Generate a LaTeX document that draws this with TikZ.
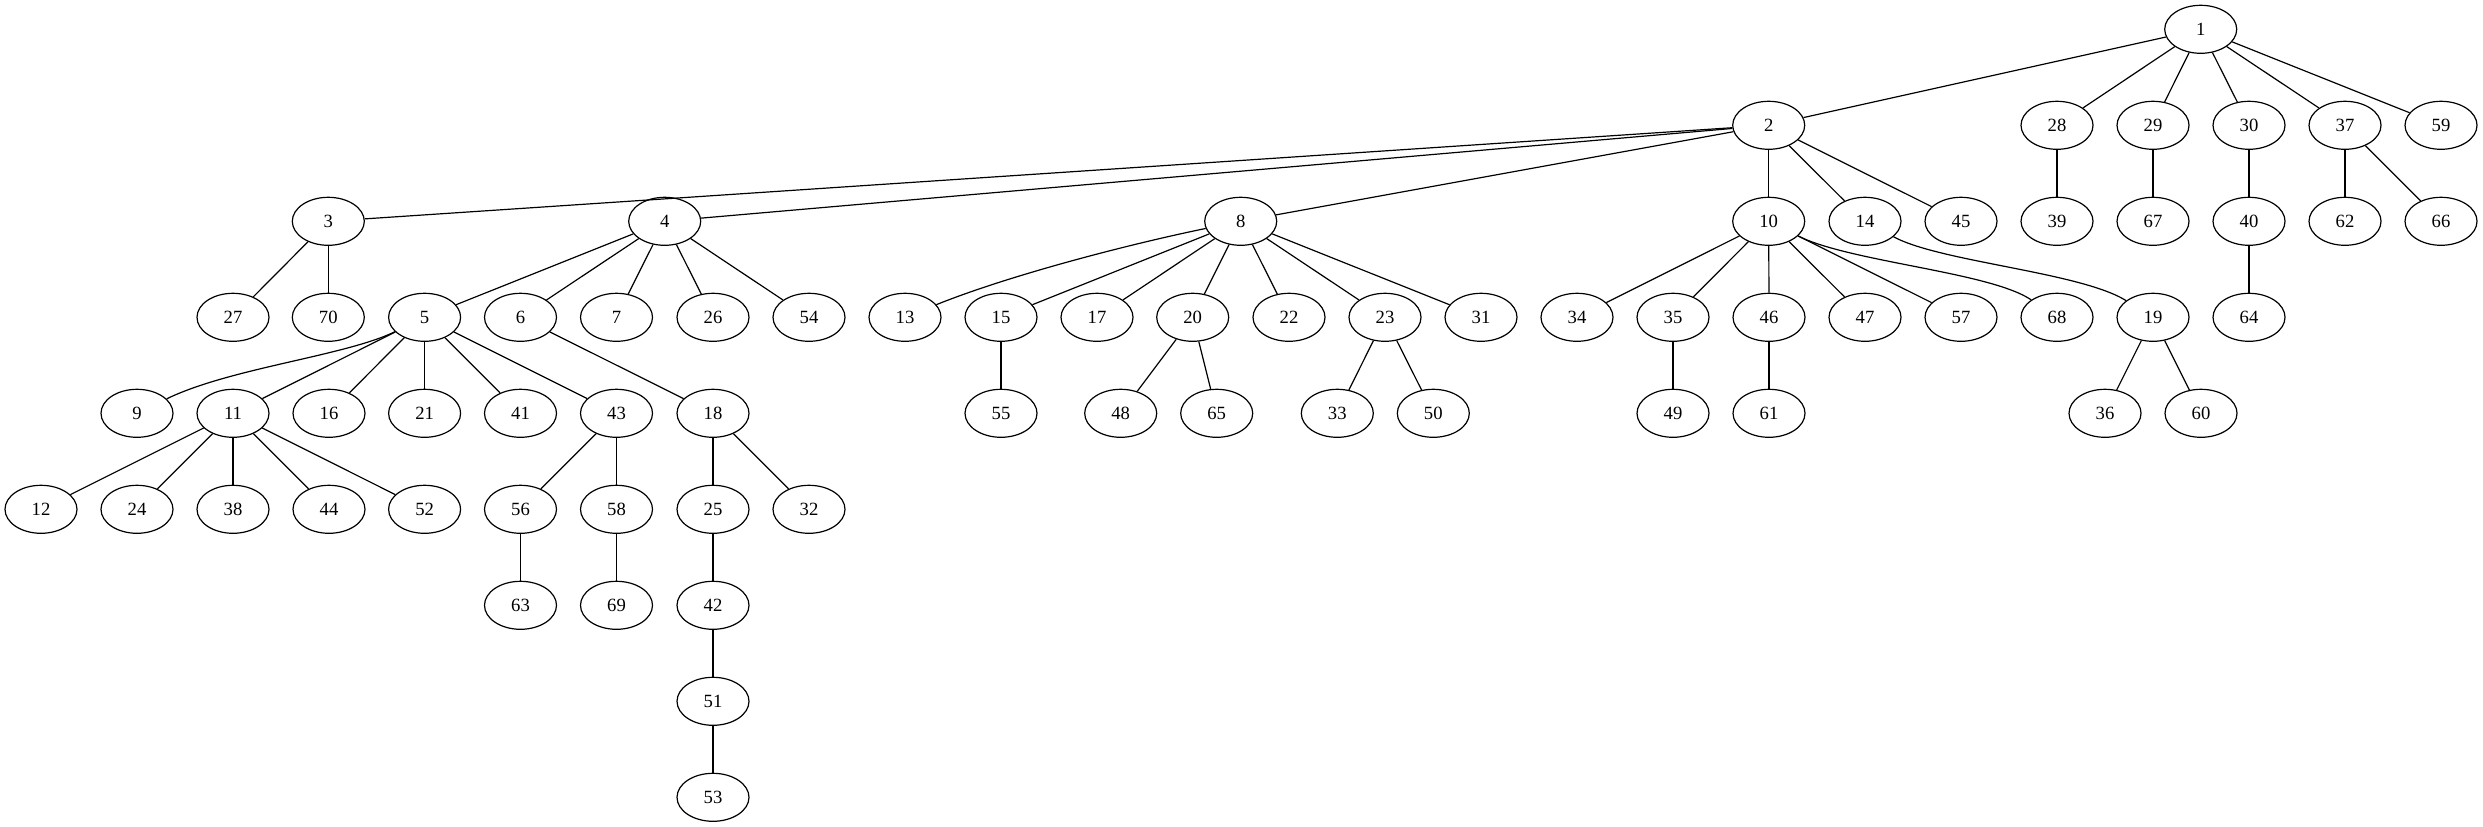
\documentclass[tikz,border=0pt]{standalone}
\usepackage{fontspec}
\setmainfont{Liberation Serif}
\usetikzlibrary{shapes.geometric}
\begin{document}
\begin{tikzpicture}[x=0.75pt,y=-0.75pt,
  nd/.style={draw,ellipse,line width=0.9pt,minimum width=54pt,minimum height=36pt,inner sep=0pt,font=\fontsize{14}{16}\selectfont},
  ed/.style={line width=0.9pt}]
\useasboundingbox (0,0) rectangle (2483,827);
% rank 0
\node[nd] (n1) at (2200.7,29.3) {1};
% rank 1
\foreach \n/\x in {2/1768.7,28/2057,29/2153,30/2249,37/2345,59/2441}
  \node[nd] (n\n) at (\x,125.3) {\n};
% rank 2
\foreach \n/\x in {3/328.3,4/664.7,8/1240.7,10/1768.7,14/1865,45/1961,39/2057,67/2153,40/2249,62/2345,66/2441}
  \node[nd] (n\n) at (\x,221.3) {\n};
% rank 3
\foreach \n/\x in {27/233,70/328.3,5/424.6,6/520.5,7/616.5,26/713,54/809,13/905,15/1001,17/1097,20/1192.7,22/1289,23/1385,31/1481,34/1577,35/1673,46/1769,47/1865,57/1961,68/2057,19/2153,64/2249}
  \node[nd] (n\n) at (\x,317.3) {\n};
% rank 4
\foreach \n/\x in {9/137,11/233,16/329,21/424.6,41/520.5,43/616.5,18/713,55/1001,48/1120.7,65/1216.7,33/1337.3,50/1433.3,49/1673,61/1769,36/2105,60/2201}
  \node[nd] (n\n) at (\x,413.3) {\n};
% rank 5
\foreach \n/\x in {12/41,24/137,38/233,44/329,52/424.6,56/520.5,58/616.5,25/713,32/809}
  \node[nd] (n\n) at (\x,509.3) {\n};
% rank 6-8
\foreach \n/\x in {63/520.5,69/616.5,42/713}
  \node[nd] (n\n) at (\x,605.3) {\n};
\node[nd] (n51) at (713,701.3) {51};
\node[nd] (n53) at (713,797.3) {53};
% straight edges
\foreach \a/\b in {1/2,1/28,1/29,1/30,1/37,1/59,
  2/3,2/4,2/8,2/10,2/14,2/45,
  28/39,29/67,30/40,37/62,37/66,
  3/27,3/70,
  4/5,4/6,4/7,4/26,4/54,
  8/15,8/17,8/20,8/22,8/23,8/31,
  10/34,10/35,10/46,10/47,10/57,
  40/64,
  5/11,5/16,5/21,5/41,5/43,
  6/18,15/55,20/48,20/65,23/33,23/50,35/49,46/61,19/36,19/60,
  11/12,11/24,11/38,11/44,11/52,
  43/56,43/58,18/25,18/32,
  56/63,58/69,25/42,42/51,51/53}
  \draw[ed] (n\a) -- (n\b);
% curved edges
\draw[ed] (n5) .. controls (345,356) and (230,368) .. (n9);
\draw[ed] (n8) .. controls (1130,244) and (1010,275) .. (n13);
\draw[ed] (n14) .. controls (1940,262) and (2080,272) .. (n19);
\draw[ed] (n10) .. controls (1850,262) and (1990,272) .. (n68);
\end{tikzpicture}
\end{document}
